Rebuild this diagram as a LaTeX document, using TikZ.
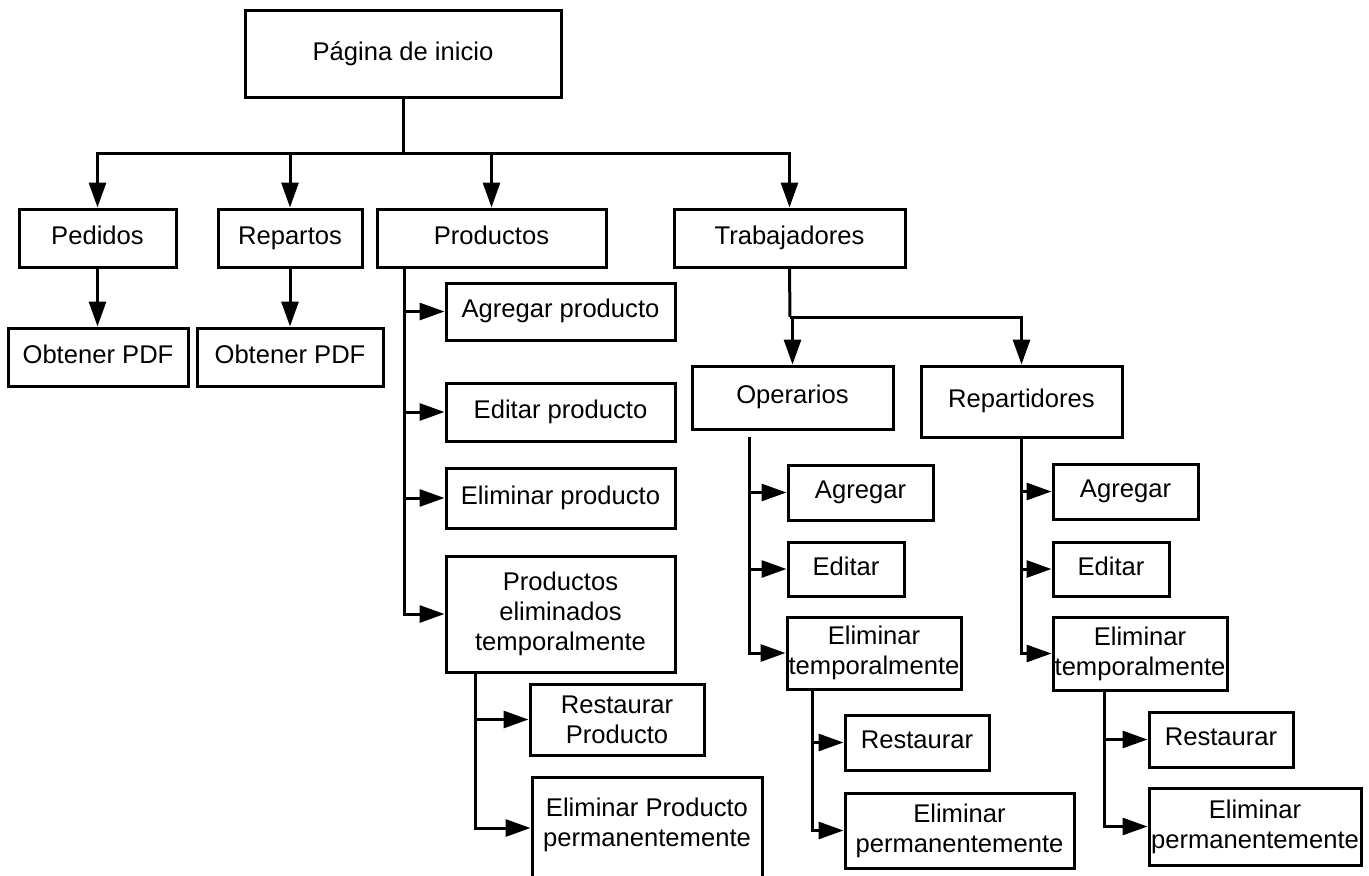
\documentclass[tikz,border=0pt]{standalone}
\usepackage{fontspec}
\setmainfont{Liberation Sans}
\usetikzlibrary{arrows.meta}
\begin{document}
\begin{tikzpicture}[x=1pt,y=-1pt,
  box/.style={draw, line width=3pt, inner sep=0pt, align=center,
    font=\fontsize{25.6pt}{30pt}\selectfont},
  one/.style={box, text height=19pt, text depth=6.5pt},
  lbl/.style={inner sep=0pt, align=center, font=\fontsize{25.6pt}{30pt}\selectfont},
  link/.style={line width=3pt},
  arr/.style={line width=3pt, -{Triangle[length=25pt,width=17pt]}}]
\clip (0,0) rectangle (1369,876);
\fill[white] (0,0) rectangle (1369,876);

% root and first level
\node[box, minimum width=316, minimum height=87] (inicio) at (403,53.5) {Página de inicio};
\node[one, minimum width=157, minimum height=58] (pedidos) at (97.5,238) {Pedidos};
\node[one, minimum width=144, minimum height=58] (repartos) at (290,238) {Repartos};
\node[one, minimum width=229, minimum height=58] (productos) at (491.5,238) {Productos};
\node[one, minimum width=231, minimum height=58] (trabajadores) at (789.5,238) {Trabajadores};

% pedidos / repartos
\node[one, minimum width=180, minimum height=58] (pdfa) at (98,357) {Obtener PDF};
\node[one, minimum width=186, minimum height=58] (pdfb) at (290,357) {Obtener PDF};

% productos
\node[one, minimum width=229, minimum height=57] (agp) at (560.5,311.5) {Agregar producto};
\node[one, minimum width=229, minimum height=58] (edp) at (560.5,412) {Editar producto};
\node[one, minimum width=229, minimum height=60] (elp) at (560.5,498) {Eliminar producto};
\node[box, minimum width=229, minimum height=116] (pet) at (560.5,614) {Productos\\eliminados\\temporalmente};
\node[box, minimum width=174, minimum height=71] (resp) at (617,719.5) {Restaurar\\Producto};
\node[box, minimum width=230, minimum height=123] (epp) at (647,838.5) {};
\node[lbl] (epptxt) at (647,825) {Eliminar Producto\\permanentemente};

% trabajadores
\node[one, minimum width=201, minimum height=63] (oper) at (792.5,397.5) {Operarios};
\node[one, minimum width=201, minimum height=71] (repa) at (1021.5,401.5) {Repartidores};

% operarios
\node[one, minimum width=145, minimum height=55] (oag) at (860.5,492.5) {Agregar};
\node[one, minimum width=116, minimum height=54] (oed) at (846,569) {Editar};
\node[box, minimum width=174, minimum height=72] (oet) at (874,653) {Eliminar\\temporalmente};
\node[one, minimum width=144, minimum height=55] (ores) at (917,742.5) {Restaurar};
\node[box, minimum width=229, minimum height=75] (oep) at (959.5,830.5) {Eliminar\\permanentemente};

% repartidores
\node[one, minimum width=145, minimum height=55] (rag) at (1125.5,491.5) {Agregar};
\node[one, minimum width=116, minimum height=54] (red) at (1111,569) {Editar};
\node[box, minimum width=174, minimum height=73] (ret) at (1140,653.5) {Eliminar\\temporalmente};
\node[one, minimum width=144, minimum height=55] (rres) at (1221,739.5) {Restaurar};
\node[box, minimum width=212, minimum height=77] (rep) at (1255,826.5) {Eliminar\\permanentemente};

% branching points
\coordinate (hub) at (403,153);
\coordinate (tv) at (790,317);
\coordinate (pv) at (404,267);
\coordinate (ptv) at (475,672);
\coordinate (ov) at (749,437);
\coordinate (otv) at (812,689);
\coordinate (rtv) at (1104,690);

% root connectors
\draw[link] (inicio.south) -- (hub);
\draw[arr] (hub) -| (pedidos.north);
\draw[arr] (hub) -| (repartos.north);
\draw[arr] (hub) -| (productos.north);
\draw[arr] (hub) -| (trabajadores.north);

\draw[arr] (pedidos.south) -- (pedidos.south |- pdfa.north);
\draw[arr] (repartos.south) -- (repartos.south |- pdfb.north);

% productos branch
\draw[arr] (pv) |- (agp.west);
\draw[arr] (pv) |- (edp.west);
\draw[arr] (pv) |- (elp.west);
\draw[arr] (pv) |- (pet.west);
\draw[arr] (ptv) |- (resp.west);
\draw[arr] (ptv) |- ([yshift=10.5pt]epp.west);

% trabajadores branch
\draw[link] (trabajadores.south) -- (tv);
\draw[arr] (tv) -| (oper.north);
\draw[arr] (tv) -| (repa.north);

\draw[arr] (ov) |- (oag.west);
\draw[arr] (ov) |- (oed.west);
\draw[arr] (ov) |- (oet.west);
\draw[arr] (otv) |- (ores.west);
\draw[arr] (otv) |- (oep.west);

\draw[arr] (repa.south) |- (rag.west);
\draw[arr] (repa.south) |- (red.west);
\draw[arr] (repa.south) |- (ret.west);
\draw[arr] (rtv) |- (rres.west);
\draw[arr] (rtv) |- (rep.west);
\end{tikzpicture}
\end{document}
